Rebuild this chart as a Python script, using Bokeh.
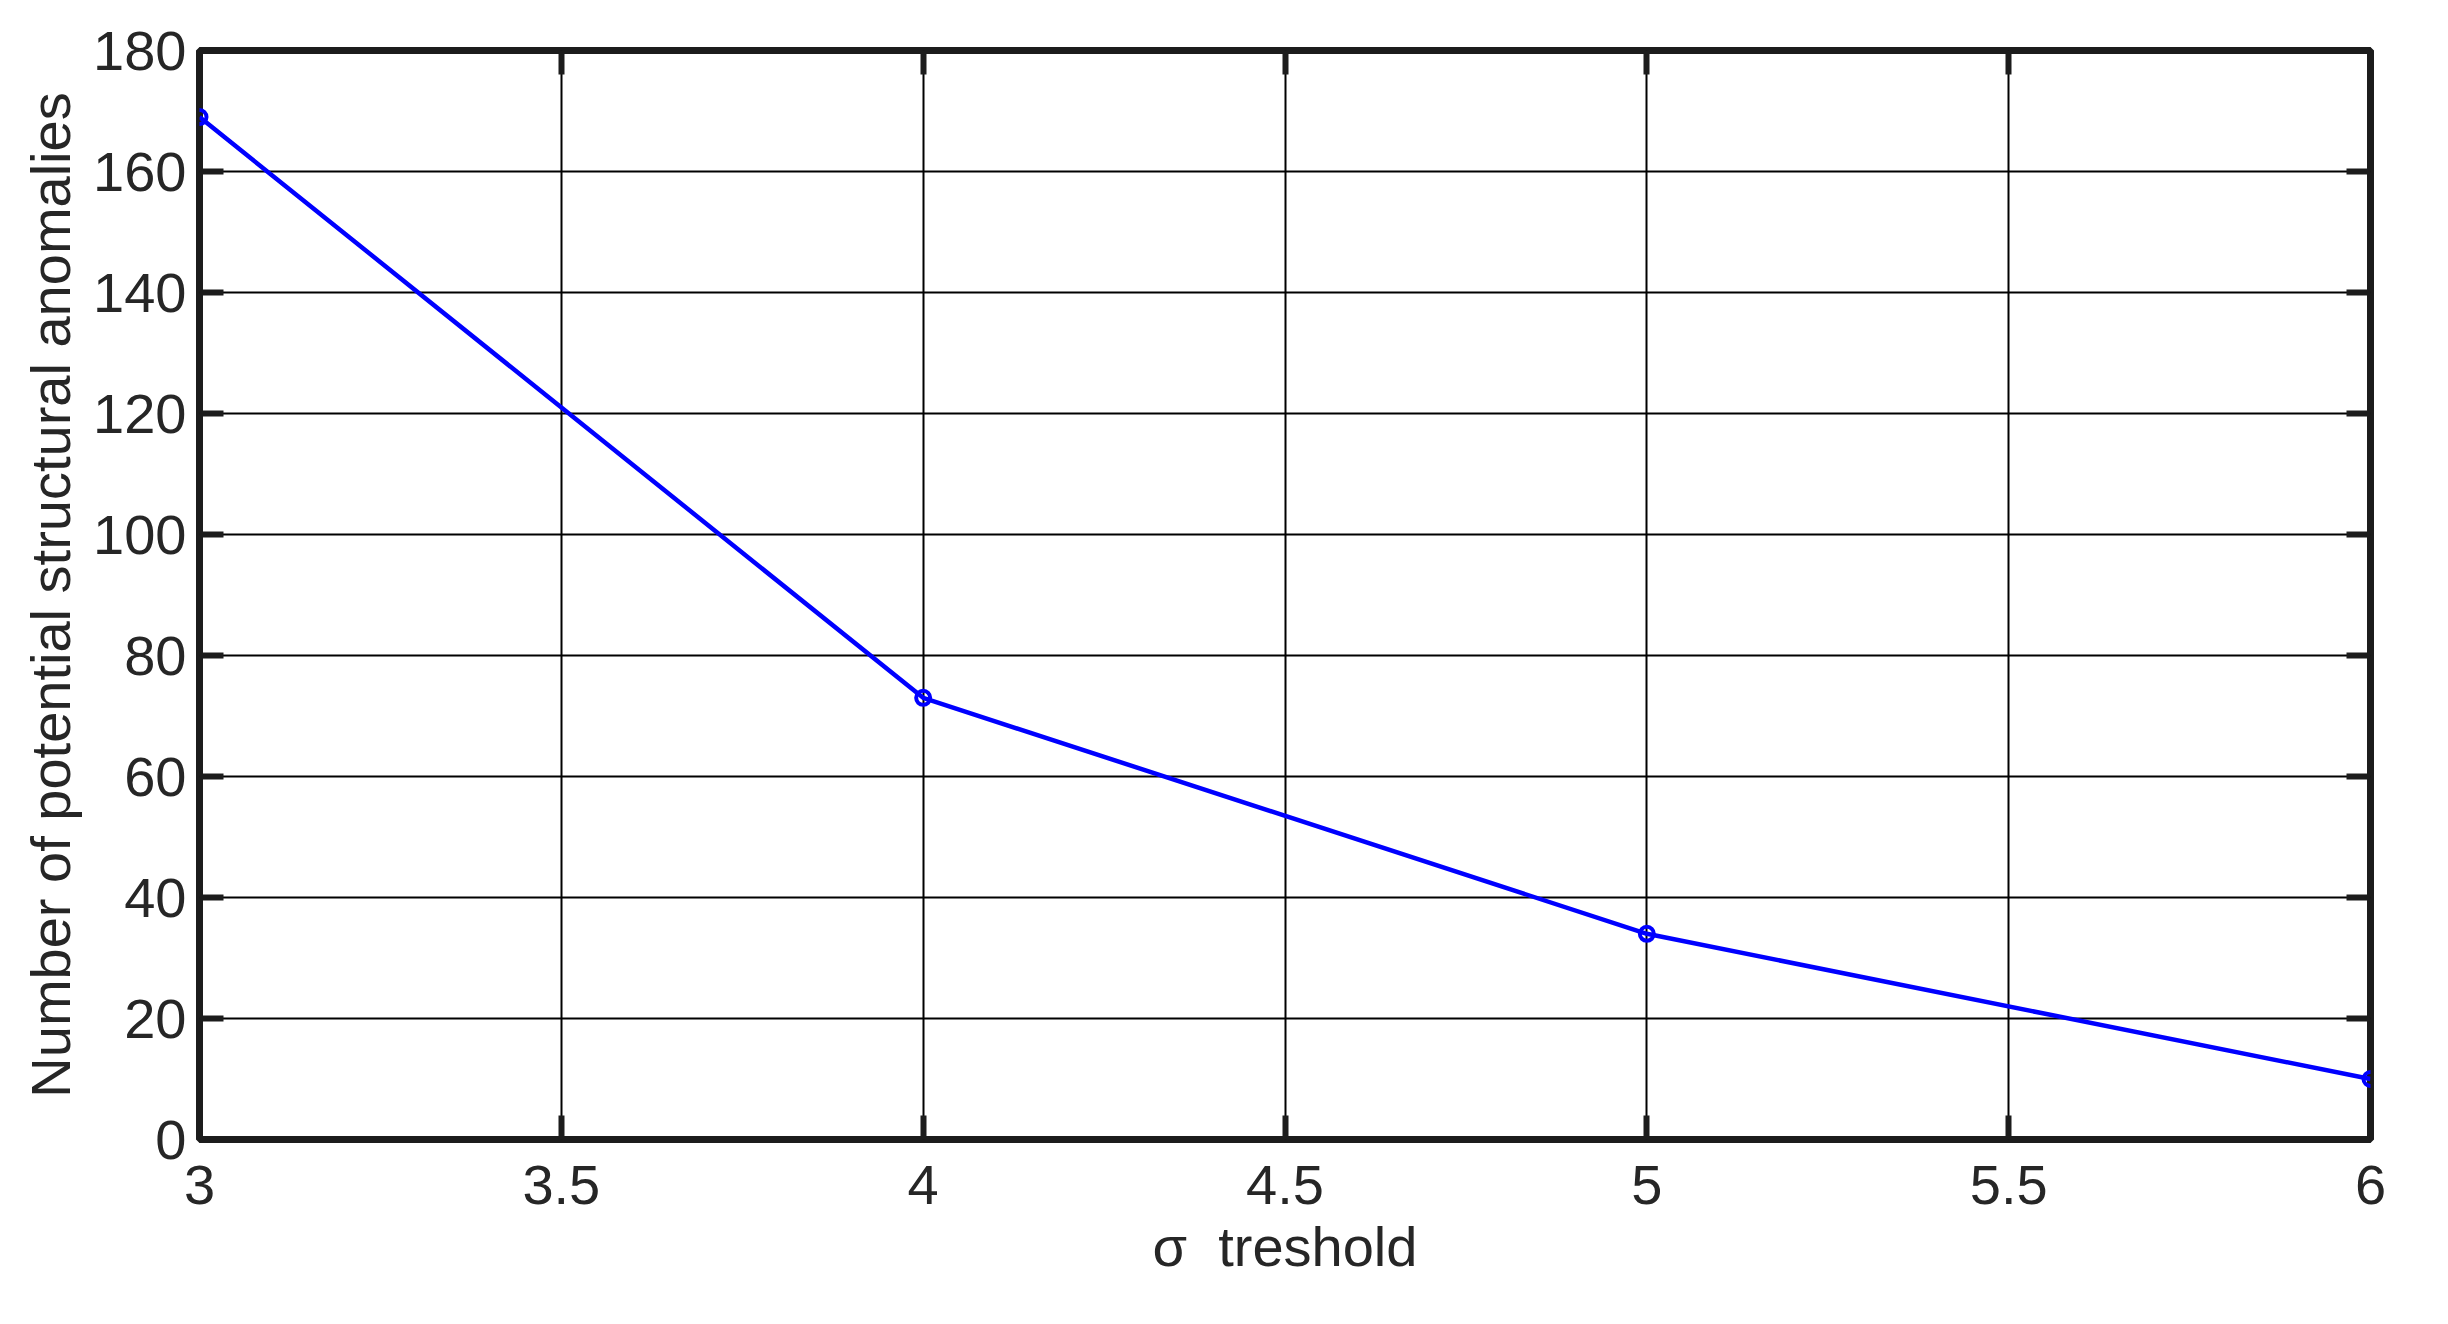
from bokeh.plotting import figure
from bokeh.models import Range1d, FixedTicker, LinearAxis
from bokeh.embed import file_html
from bokeh.resources import INLINE

# data
sigma = [3, 4, 5, 6]
anomalies = [169, 73, 34, 10]
x_ticks = [3, 3.5, 4, 4.5, 5, 5.5, 6]
x_tick_labels = ["3", "3.5", "4", "4.5", "5", "5.5", "6"]
y_ticks = [0, 20, 40, 60, 80, 100, 120, 140, 160, 180]
y_label = "Number of potential structural anomalies"
x_label = "σ\u00a0\u00a0treshold"

FONT = "Liberation Sans"
TXT = "#262626"
AX = "#1c1c1c"
FS = "56px"

p = figure(frame_width=2171, frame_height=1089,
           min_border_left=199, min_border_right=60, min_border_top=50, min_border_bottom=150,
           x_range=Range1d(3, 6), y_range=Range1d(0, 180),
           output_backend="svg", toolbar_location=None,
           x_axis_location=None, y_axis_location=None)
p.background_fill_color = "white"
p.border_fill_color = "white"
p.outline_line_color = AX
p.outline_line_width = 7

xticker = FixedTicker(ticks=x_ticks)
yticker = FixedTicker(ticks=y_ticks)
overrides = {t: s for t, s in zip(x_ticks, x_tick_labels)}


def style(ax, show):
    ax.axis_line_color = None
    ax.major_tick_in = 24
    ax.major_tick_out = 0
    ax.major_tick_line_width = 6
    ax.major_tick_line_color = AX
    ax.minor_tick_line_color = None
    ax.major_label_text_font = FONT
    ax.major_label_text_color = TXT
    ax.axis_label_text_font = FONT
    ax.axis_label_text_font_size = FS
    ax.axis_label_text_font_style = "normal"
    ax.axis_label_text_color = TXT
    if show:
        ax.major_label_text_font_size = FS
    else:
        ax.major_label_text_font_size = "0px"
        ax.major_label_standoff = 0


xb = LinearAxis(ticker=xticker, major_label_overrides=overrides, axis_label=x_label)
style(xb, True)
xb.major_label_standoff = 26
xb.axis_label_standoff = 8
p.add_layout(xb, "below")

xt = LinearAxis(ticker=xticker, major_label_overrides={t: "" for t in x_ticks})
style(xt, False)
p.add_layout(xt, "above")

yl = LinearAxis(ticker=yticker, axis_label=y_label)
style(yl, True)
yl.major_label_standoff = 13
yl.axis_label_standoff = 8
p.add_layout(yl, "left")

yr = LinearAxis(ticker=yticker, major_label_overrides={t: "" for t in y_ticks})
style(yr, False)
p.add_layout(yr, "right")

for g in (p.xgrid, p.ygrid):
    g.grid_line_color = "black"
    g.grid_line_width = 2
p.xgrid.ticker = xticker
p.ygrid.ticker = yticker

p.line(sigma, anomalies, line_color="#0000ff", line_width=4.5)
p.scatter(sigma, anomalies, marker="circle", size=14, line_color="#0000ff",
          line_width=4, fill_color=None)

open("out.html", "w").write(file_html(p, INLINE))
